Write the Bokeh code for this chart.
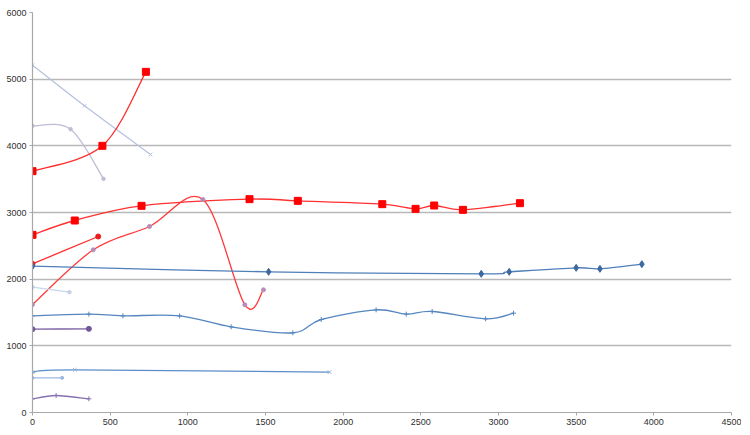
import numpy as np
from bokeh.plotting import figure
from bokeh.models import Range1d, FixedTicker, ColumnDataSource
from bokeh.embed import file_html
from bokeh.resources import INLINE

# ---- data ----
a_x = [0, 450, 730]
a_y = [3620, 4000, 5110]

b_x = [0, 335, 760]
b_y = [5210, 4600, 3870]

c3_x = [0, 245, 457]
c3_y = [4300, 4250, 3505]

c_x = [0, 272, 702, 1397, 1708, 2252, 2466, 2586, 2771, 3138]
c_y = [2665, 2880, 3100, 3200, 3175, 3125, 3055, 3105, 3040, 3140]

d_x = [0, 423]
d_y = [2230, 2640]

e_x = [0, 391, 753, 1097, 1367, 1487]
e_y = [1620, 2440, 2790, 3195, 1615, 1840]

f_x = [0, 1520, 2889, 3069, 3500, 3653, 3923]
f_y = [2195, 2110, 2080, 2110, 2170, 2155, 2225]

lb_x = [0, 238]
lb_y = [1880, 1805]

g_x = [0, 363, 582, 947, 1279, 1676, 1859, 2212, 2406, 2573, 2917, 3097]
g_y = [1450, 1475, 1450, 1450, 1285, 1195, 1395, 1540, 1475, 1515, 1405, 1490]

pu_x = [0, 363]
pu_y = [1250, 1255]

h_x = [0, 272, 1912]
h_y = [605, 640, 605]

k_x = [0, 191]
k_y = [520, 520]

m_x = [0, 152, 363]
m_y = [205, 255, 205]

x_ticks = [0, 500, 1000, 1500, 2000, 2500, 3000, 3500, 4000, 4500]
y_ticks = [0, 1000, 2000, 3000, 4000, 5000, 6000]
grid_ticks = [1000, 2000, 3000, 4000, 5000]

FONT = "Liberation Sans"

p = figure(width=741, height=427, output_backend="svg", toolbar_location=None,
           x_range=Range1d(0, 4500), y_range=Range1d(0, 6000),
           min_border_left=32, min_border_right=10, min_border_top=12, min_border_bottom=15)
p.outline_line_color = None
p.background_fill_color = "white"
p.border_fill_color = "white"

p.xgrid.visible = False
p.ygrid.ticker = FixedTicker(ticks=grid_ticks)
p.ygrid.grid_line_color = "#b8b8b8"
p.ygrid.grid_line_width = 1.4

for ax, ticks in ((p.xaxis[0], x_ticks), (p.yaxis[0], y_ticks)):
    ax.ticker = FixedTicker(ticks=ticks)
    ax.axis_line_color = "#a8a8a8"
    ax.axis_line_width = 1.2
    ax.major_tick_line_color = "#a8a8a8"
    ax.major_tick_out = 3
    ax.major_tick_in = 0
    ax.minor_tick_line_color = None
    ax.major_label_text_font = FONT
    ax.major_label_text_font_size = "9px"
    ax.major_label_text_color = "#303030"
    ax.major_label_standoff = 3


def smooth(xs, ys, color, width=1.3):
    xs = np.asarray(xs, float)
    ys = np.asarray(ys, float)
    n = len(xs)
    if n < 2:
        return
    px = np.concatenate([[xs[0]], xs, [xs[-1]]])
    py = np.concatenate([[ys[0]], ys, [ys[-1]]])
    x0, y0, x1, y1, cx0, cy0, cx1, cy1 = ([] for _ in range(8))
    for i in range(n - 1):
        j = i + 1
        x0.append(px[j]); y0.append(py[j])
        x1.append(px[j + 1]); y1.append(py[j + 1])
        cx0.append(px[j] + (px[j + 1] - px[j - 1]) / 6)
        cy0.append(py[j] + (py[j + 1] - py[j - 1]) / 6)
        cx1.append(px[j + 1] - (px[j + 2] - px[j]) / 6)
        cy1.append(py[j + 1] - (py[j + 2] - py[j]) / 6)
    src = ColumnDataSource(dict(x0=x0, y0=y0, x1=x1, y1=y1,
                                cx0=cx0, cy0=cy0, cx1=cx1, cy1=cy1))
    p.bezier(x0="x0", y0="y0", x1="x1", y1="y1", cx0="cx0", cy0="cy0",
             cx1="cx1", cy1="cy1", source=src, line_color=color, line_width=width)


def series(xs, ys, line_color, marker, mcolor, msize, width=1.3, fill=True):
    smooth(xs, ys, line_color, width)
    p.scatter(xs, ys, marker=marker, size=msize, line_color=mcolor,
              fill_color=mcolor if fill else None, line_width=1)


series(b_x, b_y, "#b6c2dc", "x", "#b6c2dc", 5)
series(c3_x, c3_y, "#bdbdd6", "circle", "#bdbdd6", 3.5)
series(a_x, a_y, "#ff2b2b", "square", "#ff0000", 7)
series(c_x, c_y, "#ff3030", "square", "#ff0000", 7)
series(e_x, e_y, "#ff3a3a", "circle", "#b88cb8", 4)
series(d_x, d_y, "#ff3030", "circle", "#ee1b1b", 5)
series(f_x, f_y, "#4f7fb8", "diamond", "#3e68a0", 7)
series(lb_x, lb_y, "#c8d6ea", "circle", "#c4d2e6", 3.5)
series(g_x, g_y, "#5586c0", "cross", "#5586c0", 5)
series(pu_x, pu_y, "#7c62a4", "circle", "#6e5898", 5)
series(h_x, h_y, "#5b8ec8", "x", "#8fb2dc", 5)
series(k_x, k_y, "#9ab8e0", "circle", "#9ab8e0", 3)
series(m_x, m_y, "#8470b0", "cross", "#8470b0", 5)

open("out.html", "w").write(file_html(p, INLINE))
